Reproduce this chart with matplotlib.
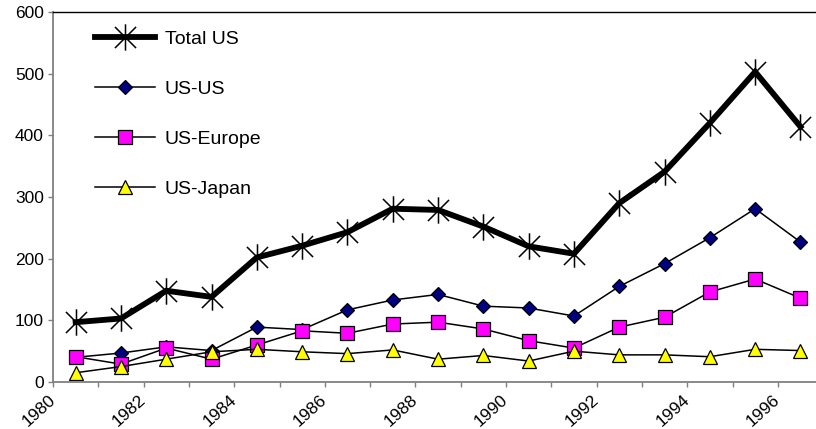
import matplotlib.pyplot as plt
from matplotlib.path import Path
from matplotlib.transforms import ScaledTranslation
import numpy as np

plt.rcParams['font.family'] = ['Liberation Sans', 'DejaVu Sans']

# annual values, plotted between the year ticks
years = list(range(1980, 1997))
total_us = [97, 103, 148, 138, 202, 221, 243, 281, 279, 252, 220, 208, 290, 341, 420, 503, 414]
us_us = [40, 47, 57, 51, 89, 85, 117, 133, 142, 123, 120, 107, 155, 192, 234, 281, 227]
us_europe = [41, 29, 55, 37, 60, 83, 79, 94, 97, 86, 67, 55, 89, 105, 146, 167, 136]
us_japan = [15, 25, 37, 49, 53, 49, 46, 52, 37, 43, 34, 50, 44, 44, 41, 53, 51]

x = np.array(years) + 0.5

# asterisk: vertical stroke plus an X
asterisk = Path([(0, -1), (0, 1), (-0.8, -0.8), (0.8, 0.8), (-0.8, 0.8), (0.8, -0.8)],
                [Path.MOVETO, Path.LINETO, Path.MOVETO, Path.LINETO, Path.MOVETO, Path.LINETO])

fig = plt.figure(figsize=(8.16, 4.29), dpi=100)
ax = fig.add_axes([53 / 816, 47 / 429, 1 - 53 / 816, 370 / 429])

ax.plot(x, total_us, color='black', lw=4.2, marker=asterisk, ms=19, mew=1.1,
        mec='black', label='Total US', solid_joinstyle='miter')
ax.plot(x, us_us, color='black', lw=1.1, marker='D', ms=7.5, mfc='#000080',
        mec='black', mew=0.9, label='US-US')
ax.plot(x, us_europe, color='black', lw=1.1, marker='s', ms=9.5, mfc='#ff00ff',
        mec='black', mew=0.9, label='US-Europe')
ax.plot(x, us_japan, color='black', lw=1.1, marker='^', ms=10, mfc='#ffff00',
        mec='black', mew=0.9, label='US-Japan')

ax.set_xlim(1980, 1980 + 763 / 45.3)
ax.set_ylim(0, 600)
ax.set_yticks(range(0, 601, 100))
ax.set_xticks(years)
ax.set_xticklabels([str(y) if y % 2 == 0 else '' for y in years],
                   rotation=42, ha='right', va='baseline', rotation_mode='anchor')
ax.tick_params(axis='both', direction='out', length=3.6, width=1, color='#808080',
               labelsize=12.5)
ax.tick_params(axis='x', pad=10)
ax.tick_params(axis='y', pad=3)

# nudge the slanted year labels a little right of their ticks
shift = ScaledTranslation(3 / 100, 0, fig.dpi_scale_trans)
for lbl in ax.get_xticklabels():
    lbl.set_transform(lbl.get_transform() + shift)

ax.spines['right'].set_visible(False)
ax.spines['left'].set_color('#808080')
ax.spines['bottom'].set_color('#808080')
ax.spines['left'].set_linewidth(1.3)
ax.spines['bottom'].set_linewidth(1.3)
ax.spines['top'].set_color('black')
ax.spines['top'].set_linewidth(1.0)

ax.legend(loc='upper left', bbox_to_anchor=(95 / 816, 1 - 30 / 429),
          bbox_transform=fig.transFigure, frameon=False, fontsize=14,
          handlelength=3.1, handletextpad=0.5, labelspacing=1.67,
          borderpad=0, borderaxespad=0)

fig.savefig('out.png', dpi=100)
